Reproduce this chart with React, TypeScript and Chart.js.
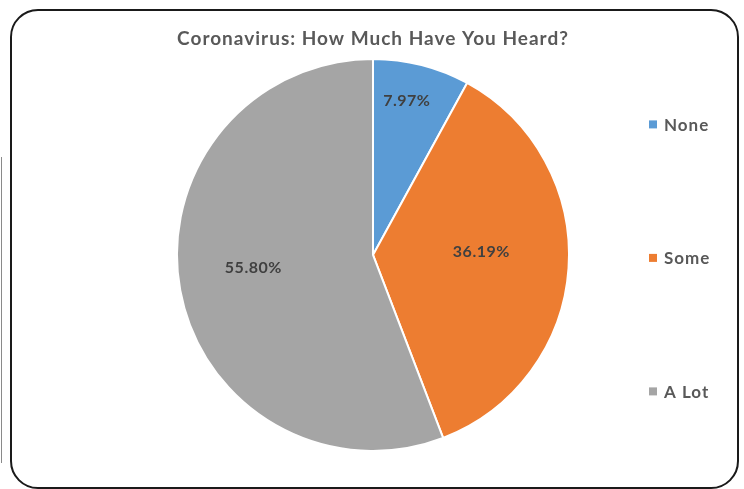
import React, { useEffect, useRef } from "react";
import { Chart, registerables } from "chart.js";

Chart.register(...registerables);

const titleText = "Coronavirus: How Much Have You Heard?";
const categories = ["None", "Some", "A Lot"];
const values = [7.97, 36.19, 55.8];
const sliceColors = ["#5B9BD5", "#ED7D31", "#A5A5A5"];
const labelRadiusFractions = [0.807, 0.553, 0.614];
const labelAngleShiftsDeg = [-2, -5.4, 4.4];

const FONT = "Lato, 'Open Sans', sans-serif";

const spacingPlugin = {
  id: "letterSpacing",
  beforeDraw(chart: any) {
    (chart.ctx as any).letterSpacing = "1px";
  },
};

const sliceLabelPlugin = {
  id: "sliceLabels",
  afterDatasetsDraw(chart: any) {
    const ctx = chart.ctx;
    const meta = chart.getDatasetMeta(0);
    const data = chart.data.datasets[0].data as number[];
    ctx.save();
    (ctx as any).letterSpacing = "0.5px";
    ctx.font = `bold 16px ${FONT}`;
    ctx.fillStyle = "#404040";
    ctx.textAlign = "center";
    ctx.textBaseline = "middle";
    meta.data.forEach((arc: any, i: number) => {
      const p = arc.getProps(["x", "y", "startAngle", "endAngle", "outerRadius"], true);
      const mid = (p.startAngle + p.endAngle) / 2 + (labelAngleShiftsDeg[i] * Math.PI) / 180;
      const r = p.outerRadius * labelRadiusFractions[i];
      ctx.fillText(data[i].toFixed(2) + "%", p.x + Math.cos(mid) * r, p.y + Math.sin(mid) * r);
    });
    ctx.restore();
  },
};

const sideLegendPlugin = {
  id: "sideLegend",
  afterDraw(chart: any) {
    const ctx = chart.ctx;
    const area = chart.chartArea;
    const cy = (area.top + area.bottom) / 2;
    const labels = chart.data.labels as string[];
    const colors = chart.data.datasets[0].backgroundColor as string[];
    ctx.save();
    (ctx as any).letterSpacing = "1px";
    ctx.font = `bold 17px ${FONT}`;
    ctx.textBaseline = "middle";
    ctx.textAlign = "left";
    labels.forEach((lab, i) => {
      const y = cy + 3 + (i - 1) * 133.5;
      ctx.fillStyle = colors[i];
      ctx.fillRect(649, y - 4, 8, 8);
      ctx.fillStyle = "#595959";
      ctx.fillText(lab, 664, y + 1);
    });
    ctx.restore();
  },
};

export default function App() {
  const canvasRef = useRef<HTMLCanvasElement | null>(null);

  useEffect(() => {
    if (!canvasRef.current) return;
    const chart = new Chart(canvasRef.current, {
      type: "pie",
      data: {
        labels: categories,
        datasets: [
          {
            data: values,
            backgroundColor: sliceColors,
            borderColor: "#ffffff",
            borderWidth: 2,
            hoverOffset: 0,
            offset: 0,
          },
        ],
      },
      options: {
        responsive: false,
        animation: false,
        devicePixelRatio: 1,
        layout: { padding: { left: 176, right: 174, top: 27, bottom: 37 } },
        plugins: {
          legend: { display: false },
          tooltip: { enabled: false },
          title: {
            display: true,
            text: titleText,
            color: "#595959",
            font: { family: FONT, size: 19, weight: "bold" },
            padding: { top: 0, bottom: 8 },
          },
        },
      },
      plugins: [spacingPlugin, sliceLabelPlugin, sideLegendPlugin],
    });
    return () => chart.destroy();
  }, []);

  return (
    <div style={{ position: "absolute", left: 0, top: 0, width: 744, height: 489, overflow: "hidden", background: "#ffffff" }}>
      <div style={{ position: "absolute", left: 1, top: 157, width: 1, height: 306, background: "#8a8a8a" }} />
      <canvas ref={canvasRef} width={744} height={489} style={{ position: "absolute", left: 0, top: 0, width: 744, height: 489 }} />
      <div
        style={{
          position: "absolute",
          left: 10,
          top: 9,
          width: 729,
          height: 480,
          boxSizing: "border-box",
          border: "2.5px solid #1a1a1a",
          borderRadius: 28,
          pointerEvents: "none",
        }}
      />
    </div>
  );
}
